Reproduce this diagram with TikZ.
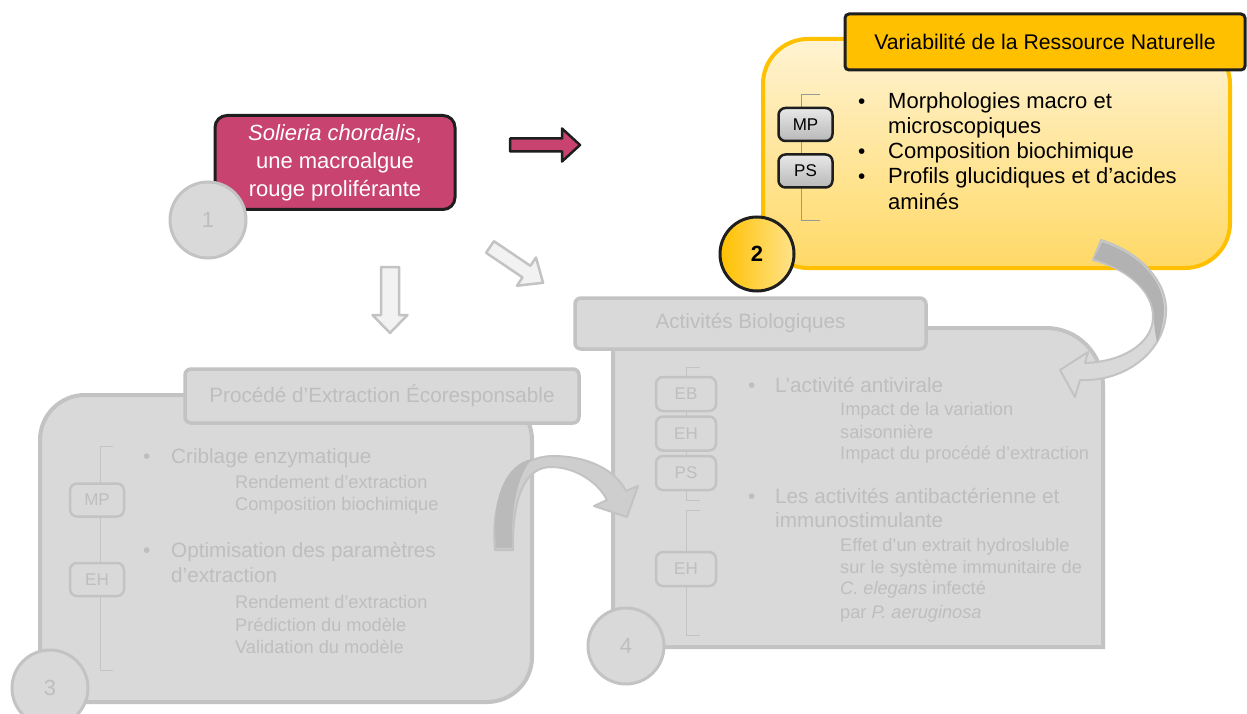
\documentclass[tikz,border=0pt]{standalone}
\usepackage{fontspec}
\setmainfont{Liberation Sans}
\usetikzlibrary{positioning}
\definecolor{algue}{HTML}{C8436F}
\definecolor{trait}{HTML}{1E1E1E}
\definecolor{grisfond}{HTML}{D9D9D9}
\definecolor{grisbord}{HTML}{C3C3C3}
\definecolor{gristexte}{HTML}{BEBEBE}
\definecolor{grisclair}{HTML}{F2F2F2}
\definecolor{grisfonce}{HTML}{B2B2B2}
\definecolor{orvif}{HTML}{FFC000}
\definecolor{orpale}{HTML}{FFF3D2}
\definecolor{ormoyen}{HTML}{FFD966}
\definecolor{orclair}{HTML}{FFE38A}
\definecolor{etiqhaut}{HTML}{E8E8E8}
\definecolor{etiqbas}{HTML}{B8B8B8}
\newcommand{\fs}[2]{\fontsize{#1}{#2}\selectfont}
% block arrow pointing along +x: style, length, shaft half, head half, head length
\newcommand{\blockarrow}[5]{%
\draw[#1] (0,-#3) -- ({#2-#5},-#3) -- ({#2-#5},-#4) -- (#2,0)
  -- ({#2-#5},#4) -- ({#2-#5},#3) -- (0,#3) -- cycle;%
}

\begin{document}
\begin{tikzpicture}[x=1pt, y=-1pt,
  panneau/.style={draw=grisbord, fill=grisfond, line width=4pt},
  onglet/.style={draw=grisbord, fill=grisfond, line width=3.5pt, rounded corners=6,
                 text=gristexte, font=\fs{20.7}{24}, inner sep=0},
  etiq/.style={draw=grisbord, fill=grisfond, line width=2.5pt, rounded corners=7,
               minimum width=54, minimum height=33, text=gristexte, font=\fs{17}{20}, inner sep=0},
  etiqj/.style={etiq, draw=trait, top color=etiqhaut, bottom color=etiqbas, text=black},
  pastille/.style={circle, draw=grisbord, fill=grisfond, line width=3pt, minimum size=76,
                   text=gristexte, font=\fs{22}{26}, inner sep=0},
  ligne/.style={anchor=base west, inner sep=0, text=gristexte, font=\fs{20.7}{24}},
  sousligne/.style={anchor=base west, inner sep=0, text=gristexte, font=\fs{18.2}{22}},
  crochet/.style={draw=grisbord, line width=1pt},
  fleche/.style={draw=grisbord, fill=grisclair, line width=2.5pt, line join=round},
  courbe/.style={draw=grisbord, fill=grisfond, line width=2pt, line join=round}
]
\clip (0,0) rectangle (1247,714);
\fill[white] (0,0) rectangle (1247,714);

% --- 3 : procede d'extraction
\node[panneau, rounded corners=45, minimum width=492, minimum height=307, inner sep=0] (p3) at (286,548.5) {};
\node[onglet, minimum width=394, minimum height=54] (t3) at (382,396) {Procédé d'Extraction Écoresponsable};
\draw[crochet] (113,446) -- (100,446) -- (100,670) -- (113,670);
\node[etiq] (mp3) at (97,500) {MP};
\node[etiq] (eh3) at (97,579.5) {EH};
\node[ligne] (b3p1) at (143,463) {\textbullet};
\node[ligne] (b3l1) at (171,463) {Criblage enzymatique};
\foreach \yy/\txt [count=\i] in {488/Rendement d’extraction, 510/Composition biochimique}
  \node[sousligne] (b3s\i) at (235,\yy) {\txt};
\node[ligne] (b3p2) at (143,557) {\textbullet};
\node[ligne] (b3l2) at (171,557) {Optimisation des paramètres};
\node[ligne] (b3l3) at (171,582) {d’extraction};
\foreach \yy/\txt [count=\i] in {608/Rendement d’extraction, 631/Prédiction du modèle, 653/Validation du modèle}
  \node[sousligne] (b3t\i) at (235,\yy) {\txt};
\node[pastille] (c3) at (50,688) {3};

% --- 4 : activites biologiques
\draw[panneau] (613,647) -- (613,328) -- (1046,328) .. controls (1078,328) and (1103,354) .. (1103,386)
  -- (1103,647) -- cycle;
\node[onglet, minimum width=351, minimum height=51] (t4) at (750.5,323.5) {Activités Biologiques};
\draw[crochet] (700,367) -- (686,367) -- (686,500) -- (700,500);
\draw[crochet] (700,510) -- (686,510) -- (686,635) -- (700,635);
\node[etiq, minimum width=60, minimum height=34] (eb4) at (686,394) {EB};
\node[etiq, minimum width=60, minimum height=34] (eh4) at (686,433.5) {EH};
\node[etiq, minimum width=60, minimum height=34] (ps4) at (686,473) {PS};
\node[etiq, minimum width=60, minimum height=34] (ehb4) at (686,569) {EH};
\node[ligne] (b4p1) at (748,392) {\textbullet};
\node[ligne] (b4l1) at (775,392) {L’activité antivirale};
\foreach \yy/\txt [count=\i] in {415/Impact de la variation, 438/saisonnière, 459/Impact du procédé d’extraction}
  \node[sousligne] (b4s\i) at (840,\yy) {\txt};
\node[ligne] (b4p2) at (748,503) {\textbullet};
\node[ligne] (b4l2) at (775,503) {Les activités antibactérienne et};
\node[ligne] (b4l3) at (775,527) {immunostimulante};
\foreach \yy/\txt [count=\i] in {551/Effet d’un extrait hydrosluble, 573/sur le système immunitaire de,
    594/\textit{C. elegans} infecté, 618/par \textit{P. aeruginosa}}
  \node[sousligne] (b4t\i) at (840,\yy) {\txt};
\node[pastille] (c4) at (626,646) {4};

% --- 2 : variabilite de la ressource
\node[draw=orvif, line width=4pt, top color=orpale, bottom color=ormoyen, rounded corners=45,
      minimum width=467, minimum height=229, inner sep=0] (p2) at (996.5,153.5) {};
\node[draw=trait, fill=orvif, line width=3pt, rounded corners=4, minimum width=400, minimum height=56,
      inner sep=0, font=\fs{21.2}{24}] (t2) at (1045,42) {Variabilité de la Ressource Naturelle};
\draw[crochet, draw=gray!80] (820,95) -- (801,95) -- (801,220) -- (820,220);
\node[etiqj] (mp2) at (805.5,124.5) {MP};
\node[etiqj] (ps2) at (805.5,171) {PS};
\foreach \yy/\txt [count=\i] in {109/Morphologies macro et, 134/microscopiques, 159/Composition biochimique,
    184/Profils glucidiques et d’acides, 209/aminés}
  \node[ligne, text=black, font=\fs{22}{25}] (b2l\i) at (888,\yy) {\txt};
\foreach \yy [count=\i] in {109,159,184}
  \node[ligne, text=black] (b2p\i) at (858,\yy) {\textbullet};
\node[pastille, draw=trait, left color=orvif, right color=orclair, minimum size=74, text=black,
      font=\fs{22}{26}\bfseries] (c2) at (757,254) {2};

% --- 1 : la macroalgue
\node[draw=trait, fill=algue, line width=3pt, rounded corners=12, minimum width=240, minimum height=94,
      text=white, align=center, font=\fs{22}{28}] (alg) at (335,162.5)
      {\textit{Solieria chordalis},\\une macroalgue\\rouge proliférante};
\node[pastille] (c1) at (208,220) {1};

% block arrows
\begin{scope}[shift={(510,145)}]
\blockarrow{draw=trait, fill=algue, line width=2.5pt, line join=round}{70}{6.5}{16.5}{18}
\end{scope}
\begin{scope}[shift={(390,267)}, rotate=-90]
\blockarrow{fleche}{66}{9}{17.5}{18}
\end{scope}
\begin{scope}[shift={(490,247)}, rotate=-34]
\blockarrow{fleche}{64}{7}{17}{20}
\end{scope}

% curved arrow 3 -> 4
\draw[courbe, fill=grisfond!95!black] (495,550) .. controls (489,482) and (522,456) .. (553,456)
  .. controls (585,456) and (614,468) .. (626,491) -- (638,486) -- (627,517) -- (594,506) -- (607,500)
  .. controls (598,482) and (575,467) .. (551,467) .. controls (527,467) and (512,493) .. (513,550) -- cycle;
\fill[grisfonce!90!white] (496,548) .. controls (490,482) and (515,462) .. (532,459)
  .. controls (518,474) and (511,505) .. (512,548) -- cycle;

% curved arrow 2 -> 4
\draw[courbe] (1101,240) .. controls (1140,252) and (1168,282) .. (1166,313)
  .. controls (1164,352) and (1125,382) .. (1080,380) -- (1075,397) -- (1060,370) -- (1088,352) -- (1085,363)
  .. controls (1120,362) and (1152,345) .. (1153,318) .. controls (1154,290) and (1125,268) .. (1093,260) -- cycle;
\fill[grisfonce] (1102,242) .. controls (1140,254) and (1166,283) .. (1164,313)
  .. controls (1163,325) and (1160,335) .. (1157,342) .. controls (1155,332) and (1154,326) .. (1154,318)
  .. controls (1155,290) and (1125,268) .. (1094,259) -- cycle;
\end{tikzpicture}
\end{document}
